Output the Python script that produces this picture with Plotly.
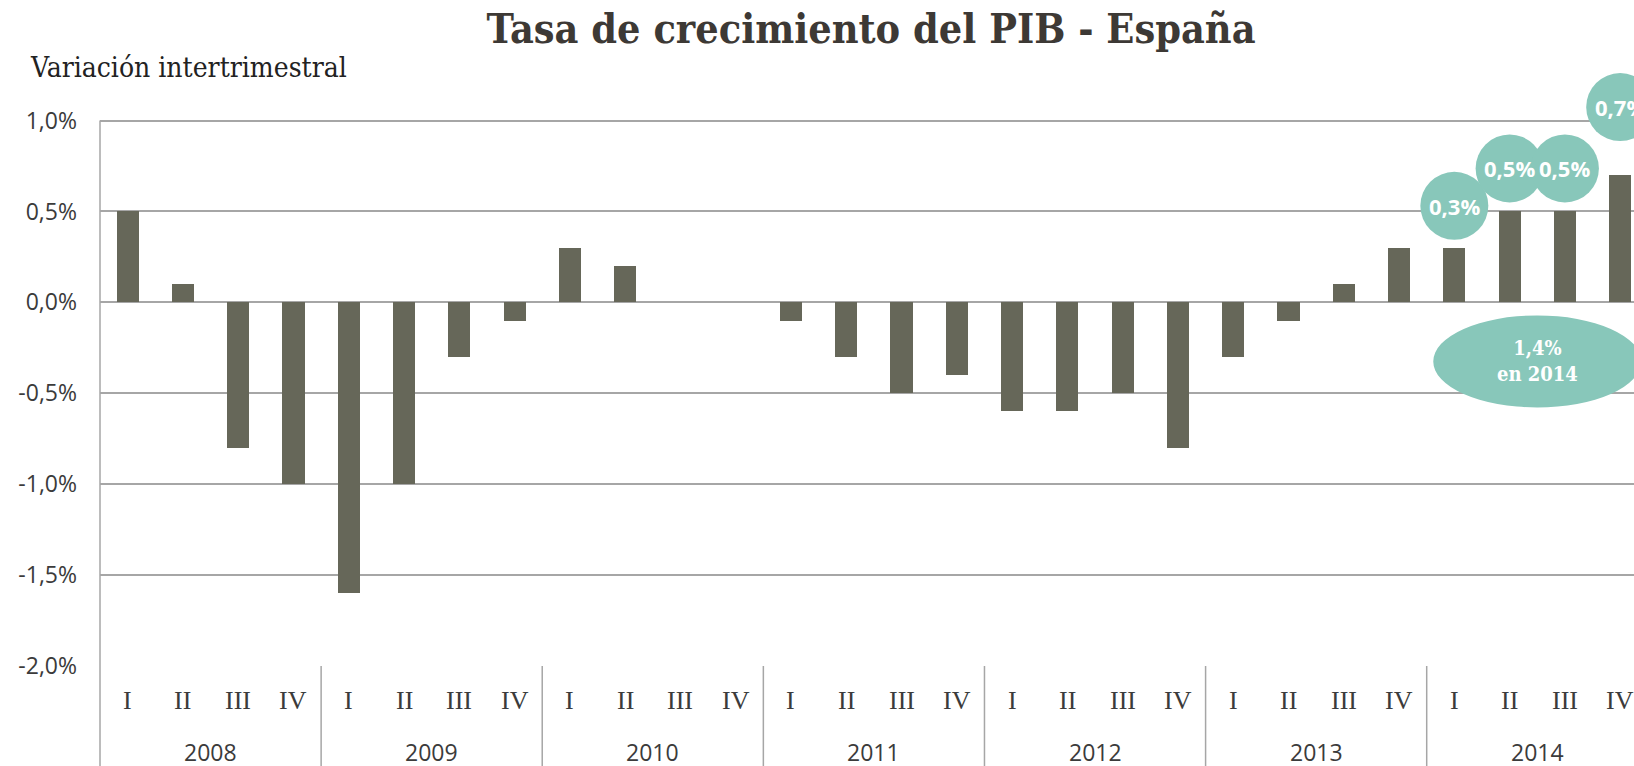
import plotly.graph_objects as go

years = ["2008", "2009", "2010", "2011", "2012", "2013", "2014"]
quarters = ["I", "II", "III", "IV"]
values = [0.5, 0.1, -0.8, -1.0,
          -1.6, -1.0, -0.3, -0.1,
          0.3, 0.2, 0.0, 0.0,
          -0.1, -0.3, -0.5, -0.4,
          -0.6, -0.6, -0.5, -0.8,
          -0.3, -0.1, 0.1, 0.3,
          0.3, 0.5, 0.5, 0.7]
bubble_idx = [24, 25, 26, 27]
bubble_text = ["0,3%", "0,5%", "0,5%", "0,7%"]
bubble_lift = [42, 43, 43, 68]  # pixel offset above bar top (style)
annual_text = "1,4%<br>en 2014"
y_ticks = [-2.0, -1.5, -1.0, -0.5, 0.0, 0.5, 1.0]
y_ticktext = ["-2,0%", "-1,5%", "-1,0%", "-0,5%", "0,0%", "0,5%", "1,0%"]

BAR = "#666759"
TEAL = "#88C7BA"
GRID = "#a6a6a6"
TXT = "#3b3b3b"

W, HT = 1634, 766
ML, MT, MB = 100, 66, 100
H = HT - MT - MB

x = list(range(len(values)))
fig = go.Figure(go.Bar(x=x, y=values, width=0.4, marker=dict(color=BAR, line=dict(width=0)),
                       hoverinfo="skip"))

YMIN, YMAX = -2.0, 1.3
shapes = []
ann = []

top_paper = (1.0 - YMIN) / (YMAX - YMIN)
shapes.append(dict(type="line", xref="paper", yref="paper", x0=0, x1=0, y0=-0.17, y1=top_paper,
                   line=dict(color=GRID, width=1.5)))
for k in range(1, len(years)):
    shapes.append(dict(type="line", xref="x", yref="paper", x0=4 * k - 0.5, x1=4 * k - 0.5,
                       y0=-0.17, y1=0, line=dict(color=GRID, width=1.5)))

for i, t, lift in zip(bubble_idx, bubble_text, bubble_lift):
    shapes.append(dict(type="circle", xref="x", yref="y", xsizemode="pixel", ysizemode="pixel",
                       xanchor=i, yanchor=values[i], x0=-34, x1=34, y0=lift - 34, y1=lift + 34,
                       fillcolor=TEAL, line=dict(width=0), layer="above"))
    ann.append(dict(x=i, y=values[i], xref="x", yref="y", yshift=lift, text="<b>" + t + "</b>",
                    showarrow=False, font=dict(family="Open Sans", size=22, color="white")))

shapes.append(dict(type="circle", xref="x", yref="y", xsizemode="pixel", ysizemode="pixel",
                   xanchor=25.5, yanchor=-0.325, x0=-104, x1=104, y0=-46, y1=46,
                   fillcolor=TEAL, line=dict(width=0), layer="above"))
ann.append(dict(x=25.5, y=-0.325, xref="x", yref="y", text="<b>" + annual_text + "</b>",
                showarrow=False, font=dict(family="DejaVu Serif Condensed", size=20, color="white")))

for yi, yr in enumerate(years):
    for qi, q in enumerate(quarters):
        ann.append(dict(x=4 * yi + qi, y=-34 / H, xref="x", yref="paper", text=q, showarrow=False,
                        yanchor="middle", font=dict(family="Liberation Serif", size=26, color=TXT)))
    ann.append(dict(x=4 * yi + 1.5, y=-86 / H, xref="x", yref="paper", text=yr, showarrow=False,
                    yanchor="middle", font=dict(family="Open Sans", size=23, color=TXT)))

ann.append(dict(x=-72 / (W - ML), y=1 - 2 / H, xref="paper", yref="paper", xanchor="left", yanchor="middle",
                text="Variación intertrimestral", showarrow=False,
                font=dict(family="DejaVu Serif Condensed", size=28, color="#222222")))

fig.update_layout(
    width=W, height=HT,
    margin=dict(l=ML, r=0, t=MT, b=MB, autoexpand=False),
    paper_bgcolor="white", plot_bgcolor="white",
    showlegend=False, bargap=0,
    title=dict(text="<b>Tasa de crecimiento del PIB - España</b>", x=871 / W, xanchor="center",
               y=1 - 29 / HT, yanchor="middle",
               font=dict(family="DejaVu Serif Condensed", size=41, color="#3d3935")),
    xaxis=dict(range=[-0.5, 27.25], showticklabels=False, showgrid=False, zeroline=False,
               showline=False, ticks=""),
    yaxis=dict(range=[YMIN, YMAX], tickvals=y_ticks, ticktext=y_ticktext, showgrid=True,
               gridcolor=GRID, gridwidth=1.5, zeroline=False, showline=False, ticks="",
               tickfont=dict(family="Open Sans", size=23, color=TXT), ticklabelstandoff=22),
    shapes=shapes, annotations=ann,
)
fig.write_html("out.html",
               config={"displayModeBar": False},
               post_script="document.body.style.margin='0px';"
                           "document.body.style.overflow='hidden';"
                           "document.documentElement.style.overflow='hidden';")
